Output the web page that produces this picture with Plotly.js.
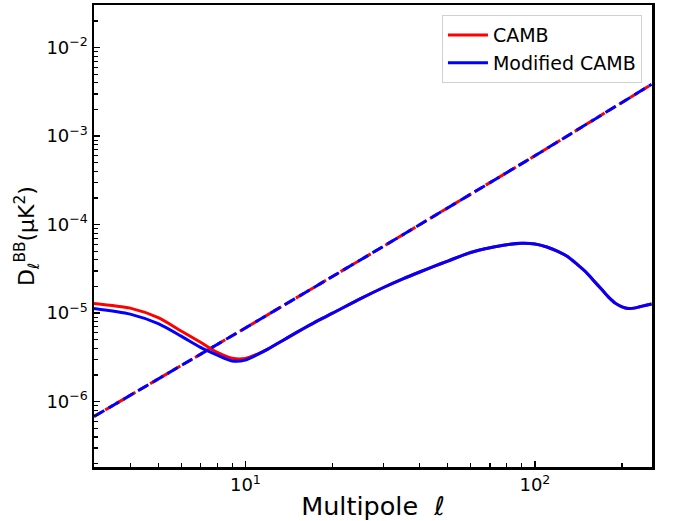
<!DOCTYPE html>
<html>
<head>
<meta charset="utf-8">
<script src="https://cdn.plot.ly/plotly-3.0.1.min.js"></script>
<style>html,body{margin:0;padding:0;background:#fff;}#chart{width:676px;height:521px;}</style>
</head>
<body>
<div id="chart"></div>
<script>
// Multipoles and BB spectra
const ellCamb = [3, 4, 5, 6, 7, 8, 9, 10, 11, 12, 13, 14, 16, 18, 20, 25, 30, 35, 40, 45, 50, 60, 70, 80, 90, 100, 110, 120, 130, 140, 150, 160, 170, 180, 190, 200, 210, 220, 230, 240, 253];
const bbCamb = [1.29e-5, 1.14e-5, 8.9e-6, 6.3e-6, 4.7e-6, 3.6e-6, 3.1e-6, 3.08e-6, 3.45e-6, 3.95e-6, 4.6e-6, 5.3e-6, 6.8e-6, 8.4e-6, 1.0e-5, 1.46e-5, 1.95e-5, 2.44e-5, 2.92e-5, 3.4e-5, 3.88e-5, 4.85e-5, 5.48e-5, 5.93e-5, 6.15e-5, 6.05e-5, 5.6e-5, 5.0e-5, 4.34e-5, 3.56e-5, 2.92e-5, 2.31e-5, 1.86e-5, 1.51e-5, 1.29e-5, 1.18e-5, 1.13e-5, 1.14e-5, 1.18e-5, 1.22e-5, 1.27e-5];
const ellMod = [3, 4, 5, 6, 7, 8, 9, 10, 11, 12, 13, 14, 16, 18, 20, 25, 30, 35, 40, 45, 50, 60, 70, 80, 90, 100, 110, 120, 130, 140, 150, 160, 170, 180, 190, 200, 210, 220, 230, 240, 253];
const bbMod = [1.13e-5, 9.75e-6, 7.6e-6, 5.5e-6, 4.1e-6, 3.35e-6, 2.88e-6, 2.95e-6, 3.4e-6, 3.95e-6, 4.6e-6, 5.3e-6, 6.8e-6, 8.4e-6, 1.0e-5, 1.46e-5, 1.95e-5, 2.44e-5, 2.92e-5, 3.4e-5, 3.88e-5, 4.85e-5, 5.48e-5, 5.93e-5, 6.15e-5, 6.05e-5, 5.6e-5, 5.0e-5, 4.34e-5, 3.56e-5, 2.92e-5, 2.31e-5, 1.86e-5, 1.51e-5, 1.29e-5, 1.18e-5, 1.13e-5, 1.14e-5, 1.18e-5, 1.22e-5, 1.27e-5];
// Dashed (noise-like) curves
const ellNoise = [3, 10, 30, 100, 253];
const noiseCamb = [6.8e-7, 6.8e-6, 5.7e-5, 6.0e-4, 3.85e-3];
const noiseMod = [6.8e-7, 6.8e-6, 5.7e-5, 6.0e-4, 3.85e-3];

const xTickVals = [10, 100];
const xTickText = ['10<sup>1</sup>', '10<sup>2</sup>'];
const yTickVals = [1e-6, 1e-5, 1e-4, 1e-3, 1e-2];
const yTickText = ['10<sup>−6</sup>', '10<sup>−5</sup>', '10<sup>−4</sup>', '10<sup>−3</sup>', '10<sup>−2</sup>'];

function minorVals(lo, hi) {
  const out = [];
  for (let e = lo; e <= hi; e++) for (let m = 2; m <= 9; m++) out.push(m * Math.pow(10, e));
  return out;
}

const font = 'DejaVu Sans, sans-serif';
const traces = [
  {x: ellCamb, y: bbCamb, mode: 'lines', name: 'CAMB', line: {color: '#ff0000', width: 3, shape: 'spline', smoothing: 0.7}},
  {x: ellNoise, y: noiseCamb, mode: 'lines', showlegend: false, line: {color: '#ff0000', width: 3, dash: '9px,4px'}},
  {x: ellMod, y: bbMod, mode: 'lines', name: 'Modified CAMB', line: {color: '#0000ff', width: 3, shape: 'spline', smoothing: 0.7}},
  {x: ellNoise, y: noiseMod, mode: 'lines', showlegend: false, line: {color: '#0000ff', width: 3, dash: '12px,5px'}}
];

const layout = {
  width: 676, height: 521,
  margin: {l: 94, r: 24, t: 5, b: 54},
  paper_bgcolor: '#fff', plot_bgcolor: '#fff',
  font: {family: font, color: '#000', size: 18},
  showlegend: true,
  legend: {x: 0.982, xanchor: 'right', y: 0.978, yanchor: 'top', bordercolor: '#d0d0d0', borderwidth: 1,
           bgcolor: '#fff', font: {size: 19, family: font}, itemwidth: 40, tracegroupgap: 0},
  xaxis: {
    type: 'log', range: [Math.log10(3), Math.log10(253.8)],
    showgrid: false, zeroline: false, showline: true, mirror: true, linecolor: '#000', linewidth: 2.5,
    ticks: 'inside', ticklen: 6, tickwidth: 1.5, tickcolor: '#000',
    tickmode: 'array', tickvals: xTickVals, ticktext: xTickText, tickfont: {size: 18, family: font},
    minor: {tickmode: 'array', tickvals: minorVals(0, 2), ticks: 'inside', ticklen: 4, tickwidth: 1.2, tickcolor: '#000', showgrid: false},
    title: {text: 'Multipole  <i>ℓ</i>', font: {size: 25.5, family: font}, standoff: 7}
  },
  yaxis: {
    type: 'log', range: [-6.738, -1.518],
    showgrid: false, zeroline: false, showline: true, mirror: true, linecolor: '#000', linewidth: 2.5,
    ticks: 'inside', ticklen: 6, tickwidth: 1.5, tickcolor: '#000',
    tickmode: 'array', tickvals: yTickVals, ticktext: yTickText, tickfont: {size: 18, family: font},
    minor: {tickmode: 'array', tickvals: minorVals(-7, -2), ticks: 'inside', ticklen: 4, tickwidth: 1.2, tickcolor: '#000', showgrid: false},
    title: {text: 'D<sub><i>ℓ</i></sub><sup>BB</sup>(μK<sup>2</sup>)', font: {size: 22, family: font}, standoff: 6}
  }
};

Plotly.newPlot('chart', traces, layout, {displayModeBar: false, staticPlot: true});
</script>
</body>
</html>
